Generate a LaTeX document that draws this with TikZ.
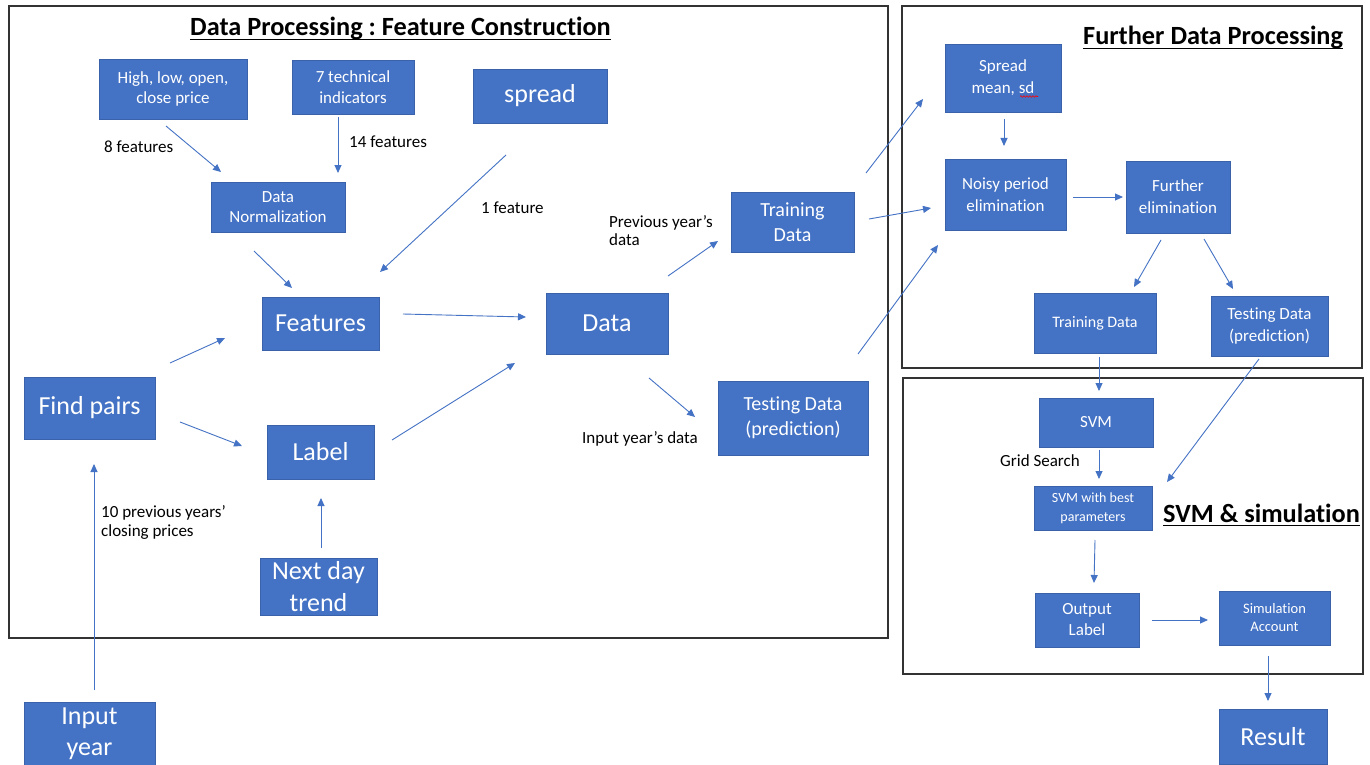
\documentclass[tikz,border=0pt]{standalone}
\usepackage{fontspec}
\setmainfont{Carlito}[Ligatures=CommonOff]
\usetikzlibrary{arrows.meta,decorations.pathmorphing}
\definecolor{boxblue}{HTML}{4472C4}
\definecolor{boxedge}{HTML}{3A62AA}
\definecolor{framegray}{HTML}{333333}
\frenchspacing
\tikzset{
  box/.style={fill=boxblue, draw=boxedge, line width=0.8pt, text=white,
    align=center, inner sep=0pt},
  arr/.style={draw=boxblue, line width=0.9pt, -{Triangle[length=8pt,width=7pt]}},
  panel/.style={draw=framegray, line width=1.6pt},
  lbl/.style={text=black, inner sep=0pt, align=left,
    font=\fontsize{17}{18}\selectfont},
  heading/.style={inner sep=0pt, font=\bfseries\fontsize{26.3}{31}\selectfont},
  uline/.style={line width=1.8pt, black}
}
\begin{document}
\begin{tikzpicture}[x=1pt,y=-1pt]
\useasboundingbox (0,0) rectangle (1370,765);
\fill[white] (0,0) rectangle (1370,765);

% panels
\draw[panel] (9,6) rectangle (888,638);
\draw[panel] (902,6) rectangle (1362,368);
\draw[panel] (903,378) rectangle (1363,674);

% headings
\node[heading, anchor=base west] (t1) at (190,36) {Data Processing : Feature Construction};
\draw[uline] ([yshift=-3.5pt]t1.base west) -- ([yshift=-3.5pt]t1.base east);
\node[heading, anchor=base west] (t2) at (1083,45) {Further Data Processing};
\draw[uline] ([yshift=-3.5pt]t2.base west) -- ([yshift=-3.5pt]t2.base east);
\node[heading, anchor=base west] (t3) at (1163,522) {SVM \& simulation};
\draw[uline] ([yshift=-3.5pt]t3.base west) -- ([yshift=-3.5pt]t3.base east);

% feature construction boxes
\node[box, minimum width=148pt, minimum height=60pt, font=\fontsize{17}{20.5}\selectfont]
  (hl) at (173,89) {High, low, open,\\close price};
\node[box, minimum width=122pt, minimum height=54pt, font=\fontsize{17}{20.5}\selectfont]
  (ti) at (353,87) {7 technical\\indicators};
\node[box, minimum width=134pt, minimum height=54pt, font=\fontsize{26}{31}\selectfont]
  (spread) at (540,96) {spread};
\node[box, minimum width=134pt, minimum height=50pt, font=\fontsize{17}{20.5}\selectfont]
  (norm) at (278,207) {Data\\Normalization};
\node[box, minimum width=117pt, minimum height=53pt, font=\fontsize{26}{31}\selectfont]
  (feat) at (320.5,323.5) {Features};
\node[box, minimum width=131pt, minimum height=62pt, font=\fontsize{26}{31}\selectfont]
  (pairs) at (89.5,408) {Find pairs};
\node[box, minimum width=107pt, minimum height=54pt, font=\fontsize{26}{31}\selectfont]
  (label) at (320.5,452) {Label};
\node[box, minimum width=117pt, minimum height=57pt, font=\fontsize{26}{32}\selectfont]
  (trend) at (318.5,586.5) {Next day\\trend};
\node[box, minimum width=131pt, minimum height=63pt, font=\fontsize{26}{31}\selectfont]
  (year) at (89.5,733.5) {Input\\year};
\node[box, minimum width=122pt, minimum height=61pt, font=\fontsize{26}{31}\selectfont]
  (data) at (607,323.5) {Data};
\node[box, minimum width=123pt, minimum height=60pt, font=\fontsize{20}{25}\selectfont]
  (trainA) at (792.5,222) {Training\\Data};
\node[box, minimum width=150pt, minimum height=74pt, font=\fontsize{20}{25}\selectfont]
  (testA) at (793,418) {Testing Data\\(prediction)};

% further processing boxes
\node[box, minimum width=116pt, minimum height=68pt, font=\fontsize{17}{21.7}\selectfont]
  (sd) at (1003,78) {Spread\\mean, sd};
\draw[red, line width=0.6pt, decorate, decoration={snake, amplitude=0.8pt, segment length=3pt}]
  (1020,96.5) -- (1038,96.5);
\node[box, minimum width=121pt, minimum height=71pt, font=\fontsize{17}{21.7}\selectfont]
  (noisy) at (1005.5,194.5) {Noisy period\\elimination};
\node[box, minimum width=104pt, minimum height=72pt, font=\fontsize{17}{21.7}\selectfont]
  (further) at (1178,197) {Further\\elimination};
\node[box, minimum width=122pt, minimum height=60pt, font=\fontsize{16}{20}\selectfont]
  (trainB) at (1095,323) {Training Data};
\node[box, minimum width=117pt, minimum height=60pt, font=\fontsize{17}{21.7}\selectfont]
  (testB) at (1269.5,326) {Testing Data\\(prediction)};

% SVM and simulation boxes
\node[box, minimum width=114pt, minimum height=49pt, font=\fontsize{17}{21}\selectfont]
  (svm) at (1096,422.5) {SVM};
\node[box, minimum width=118pt, minimum height=44pt, font=\fontsize{14}{18.7}\selectfont]
  (best) at (1093,508) {SVM with best\\parameters};
\node[box, minimum width=104pt, minimum height=54pt, font=\fontsize{17}{21}\selectfont]
  (out) at (1087,620) {Output\\Label};
\node[box, minimum width=111pt, minimum height=54pt, font=\fontsize{14.5}{18}\selectfont]
  (sim) at (1274.5,618) {Simulation\\Account};
\node[box, minimum width=108pt, minimum height=55pt, font=\fontsize{26}{31}\selectfont]
  (result) at (1273,736.5) {Result};

% annotations (multi-line ones are placed by their last baseline)
\node[lbl, anchor=base west] (l8) at (104,152) {8 features};
\node[lbl, anchor=base west] (l14) at (349,147) {14 features};
\node[lbl, anchor=base west] (l1) at (481,213) {1 feature};
\node[lbl, anchor=base west] (lprev) at (609,245) {Previous year’s\\data};
\node[lbl, anchor=base west, font=\fontsize{17}{19}\selectfont] (l10) at (101,536) {10 previous years’\\closing prices};
\node[lbl, anchor=base west] (lin) at (582,443) {Input year’s data};
\node[lbl, anchor=base west] (lgrid) at (1000,466) {Grid Search};

% connector end points
\coordinate (hl-o) at (166,126);    \coordinate (norm-i1) at (221,172);
\coordinate (ti-o) at (338,117);    \coordinate (norm-i2) at (338,173);
\coordinate (spread-o) at (506,155); \coordinate (feat-i1) at (380,272);
\coordinate (norm-o) at (254,251);  \coordinate (feat-i2) at (292,288);
\coordinate (pairs-o1) at (170,363); \coordinate (feat-i3) at (225,338);
\coordinate (pairs-o2) at (180,422); \coordinate (label-i1) at (242,446);
\coordinate (year-o) at (94,690);   \coordinate (pairs-i) at (94,464);
\coordinate (trend-o) at (321,548); \coordinate (label-i2) at (321,498);
\coordinate (feat-o) at (403,314);  \coordinate (data-i1) at (526,317);
\coordinate (label-o) at (392,440); \coordinate (data-i2) at (515,363);
\coordinate (data-o1) at (668,276); \coordinate (trainA-i) at (718,241);
\coordinate (data-o2) at (649,378); \coordinate (testA-i) at (695,417);
\coordinate (trainA-o1) at (866,173); \coordinate (sd-i) at (923,99);
\coordinate (trainA-o2) at (869,219); \coordinate (noisy-i1) at (931,208);
\coordinate (testA-o) at (858,354); \coordinate (noisy-i2) at (938,245);
\coordinate (sd-o) at (1004,119);   \coordinate (noisy-i3) at (1004,146);
\coordinate (noisy-o) at (1073,197); \coordinate (further-i) at (1123,197);
\coordinate (further-o1) at (1161,240); \coordinate (trainB-i) at (1134,287);
\coordinate (further-o2) at (1204,239); \coordinate (testB-i) at (1233,289);
\coordinate (trainB-o) at (1099,357); \coordinate (svm-i) at (1099,391);
\coordinate (testB-o) at (1259,359); \coordinate (best-i1) at (1167,482);
\coordinate (svm-o) at (1099,450);  \coordinate (best-i2) at (1099,479);
\coordinate (best-o) at (1095,540); \coordinate (out-i) at (1094,583);
\coordinate (out-o) at (1152,620);  \coordinate (sim-i) at (1208,620);
\coordinate (sim-o) at (1268,656);  \coordinate (result-i) at (1268,701);

% connectors
\draw[arr] (hl-o) -- (norm-i1);
\draw[arr] (ti-o) -- (norm-i2);
\draw[arr] (spread-o) -- (feat-i1);
\draw[arr] (norm-o) -- (feat-i2);
\draw[arr] (pairs-o1) -- (feat-i3);
\draw[arr] (pairs-o2) -- (label-i1);
\draw[arr] (year-o) -- (pairs-i);
\draw[arr] (trend-o) -- (label-i2);
\draw[arr] (feat-o) -- (data-i1);
\draw[arr] (label-o) -- (data-i2);
\draw[arr] (data-o1) -- (trainA-i);
\draw[arr] (data-o2) -- (testA-i);
\draw[arr] (trainA-o1) -- (sd-i);
\draw[arr] (trainA-o2) -- (noisy-i1);
\draw[arr] (testA-o) -- (noisy-i2);
\draw[arr] (sd-o) -- (noisy-i3);
\draw[arr] (noisy-o) -- (further-i);
\draw[arr] (further-o1) -- (trainB-i);
\draw[arr] (further-o2) -- (testB-i);
\draw[arr] (trainB-o) -- (svm-i);
\draw[arr] (testB-o) -- (best-i1);
\draw[arr] (svm-o) -- (best-i2);
\draw[arr] (best-o) -- (out-i);
\draw[arr] (out-o) -- (sim-i);
\draw[arr] (sim-o) -- (result-i);
\end{tikzpicture}
\end{document}
